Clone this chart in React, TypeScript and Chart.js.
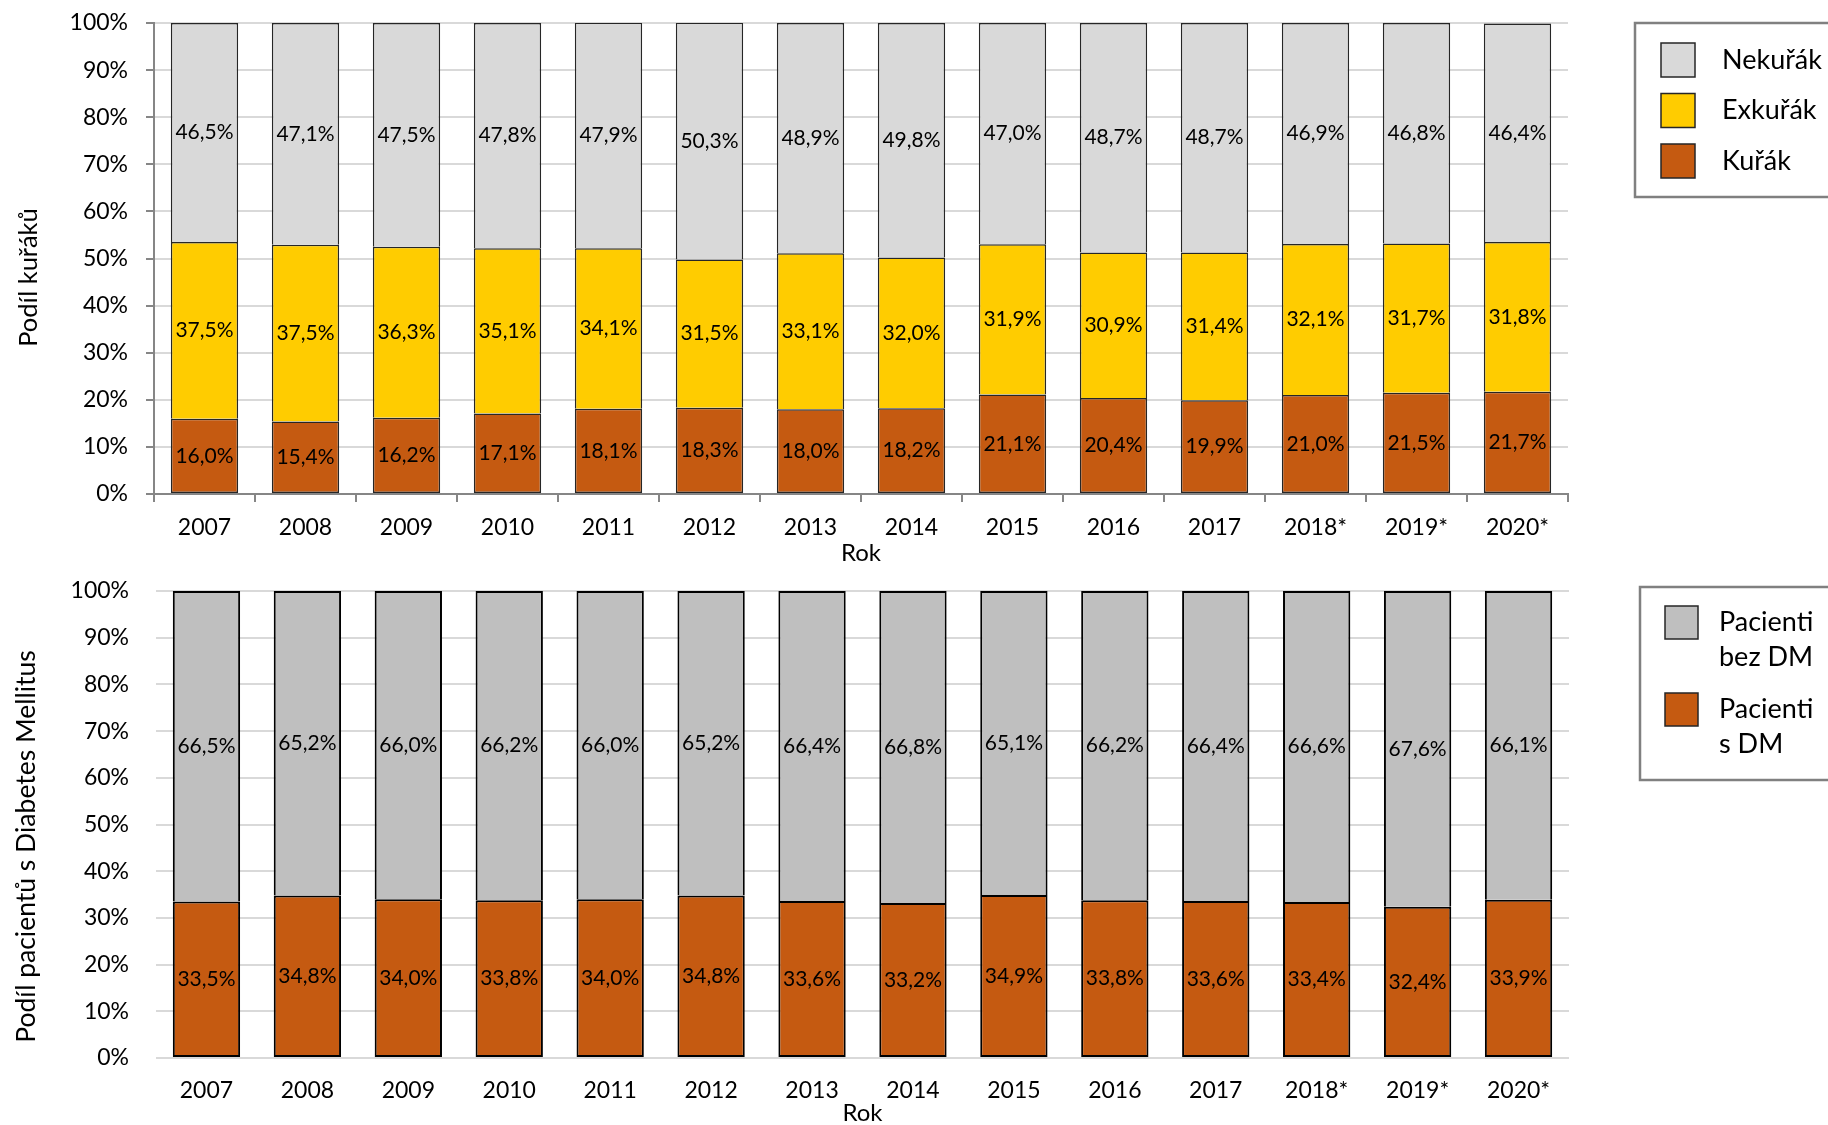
import React, { useEffect, useRef } from "react";
import { Chart, registerables } from "chart.js";

Chart.register(...registerables);

const years = ["2007", "2008", "2009", "2010", "2011", "2012", "2013", "2014", "2015", "2016", "2017", "2018*", "2019*", "2020*"];

const kurak = [16.0, 15.4, 16.2, 17.1, 18.1, 18.3, 18.0, 18.2, 21.1, 20.4, 19.9, 21.0, 21.5, 21.7];
const exkurak = [37.5, 37.5, 36.3, 35.1, 34.1, 31.5, 33.1, 32.0, 31.9, 30.9, 31.4, 32.1, 31.7, 31.8];
const nekurak = [46.5, 47.1, 47.5, 47.8, 47.9, 50.3, 48.9, 49.8, 47.0, 48.7, 48.7, 46.9, 46.8, 46.4];

const sDM = [33.5, 34.8, 34.0, 33.8, 34.0, 34.8, 33.6, 33.2, 34.9, 33.8, 33.6, 33.4, 32.4, 33.9];
const bezDM = [66.5, 65.2, 66.0, 66.2, 66.0, 65.2, 66.4, 66.8, 65.1, 66.2, 66.4, 66.6, 67.6, 66.1];

const topLabels = ["Kuřák", "Exkuřák", "Nekuřák"];
const bottomLabels = ["Pacienti\ns DM", "Pacienti\nbez DM"];
const xTitle = "Rok";
const topYTitle = "Podíl kuřáků";
const bottomYTitle = "Podíl pacientů s Diabetes Mellitus";

const FONT = "Lato, 'Open Sans', sans-serif";

const segmentLabels = {
  id: "segmentLabels",
  afterDatasetsDraw(chart: any, _a: any, o: any) {
    const ctx = chart.ctx;
    ctx.save();
    ctx.font = `${o.size}px ${FONT}`;
    ctx.fillStyle = "#000";
    ctx.textAlign = "center";
    ctx.textBaseline = "middle";
    chart.data.datasets.forEach((ds: any, i: number) => {
      const meta = chart.getDatasetMeta(i);
      meta.data.forEach((el: any, j: number) => {
        const v = ds.data[j] as number;
        const txt = v.toFixed(1).replace(".", ",") + "%";
        ctx.fillText(txt, el.x, (el.y + el.base) / 2);
      });
    });
    ctx.restore();
  },
};

const axisTitles = {
  id: "axisTitles",
  afterDraw(chart: any, _a: any, o: any) {
    const { ctx, chartArea: ca } = chart;
    ctx.save();
    ctx.fillStyle = "#000";
    ctx.textAlign = "center";
    ctx.textBaseline = "middle";
    ctx.font = `${o.xSize}px ${FONT}`;
    ctx.fillText(o.xText, (ca.left + ca.right) / 2, ca.bottom + o.xOffset);
    ctx.font = `${o.ySize}px ${FONT}`;
    ctx.translate(o.yX, (ca.top + ca.bottom) / 2 + o.yShift);
    ctx.rotate(-Math.PI / 2);
    ctx.fillText(o.yText, 0, 0);
    ctx.restore();
  },
};

const boxLegend = {
  id: "boxLegend",
  afterDraw(chart: any, _a: any, o: any) {
    const ctx = chart.ctx;
    ctx.save();
    ctx.strokeStyle = o.borderColor;
    ctx.lineWidth = 2.5;
    ctx.strokeRect(o.box.x, o.box.y, o.box.w, o.box.h);
    ctx.font = `${o.size}px ${FONT}`;
    ctx.textAlign = "left";
    ctx.textBaseline = "middle";
    const items = chart.data.datasets.slice().reverse();
    items.forEach((ds: any, k: number) => {
      const top = o.firstTop + k * o.spacing;
      ctx.fillStyle = ds.backgroundColor;
      ctx.fillRect(o.swX, top, o.sw, o.sw);
      ctx.strokeStyle = "#262626";
      ctx.lineWidth = 1.5;
      ctx.strokeRect(o.swX, top, o.sw, o.sw);
      ctx.fillStyle = "#000";
      const lines = String(ds.label).split("\n");
      lines.forEach((ln: string, m: number) => {
        ctx.fillText(ln, o.textX, top + o.sw / 2 + m * o.lineHeight);
      });
    });
    ctx.restore();
  },
};

const noPadV = (s: any) => { s.paddingTop = 0; s.paddingBottom = 0; };
const noPadH = (s: any) => { s.paddingLeft = 0; s.paddingRight = 0; };

function TopChart() {
  const ref = useRef<HTMLCanvasElement>(null);
  useEffect(() => {
    const base = { barPercentage: 0.667, categoryPercentage: 1, borderWidth: 1.5, borderColor: "#262626" };
    const chart = new Chart(ref.current!, {
      type: "bar",
      data: {
        labels: years,
        datasets: [
          { label: topLabels[0], data: kurak, backgroundColor: "#C55A11", ...base, borderSkipped: false },
          { label: topLabels[1], data: exkurak, backgroundColor: "#FFCC00", ...base, borderSkipped: "start" },
          { label: topLabels[2], data: nekurak, backgroundColor: "#D9D9D9", ...base, borderSkipped: "start" },
        ] as any,
      },
      options: {
        responsive: false,
        animation: false,
        layout: { padding: { top: 23, right: 260, left: 0, bottom: 0 } },
        plugins: {
          legend: { display: false },
          tooltip: { enabled: false },
          segmentLabels: { size: 21 },
          axisTitles: { xSize: 24, ySize: 25.5, xText: xTitle, xOffset: 59, yText: topYTitle, yX: 29, yShift: 19 },
          boxLegend: {
            borderColor: "#808080",
            box: { x: 1635, y: 23, w: 200, h: 174 },
            size: 27,
            swX: 1661,
            sw: 34,
            firstTop: 43,
            spacing: 50.5,
            textX: 1722,
            lineHeight: 33,
          },
        } as any,
        scales: {
          x: {
            stacked: true,
            grid: { display: true, drawOnChartArea: false, drawTicks: true, tickLength: 8, tickColor: "#868686", offset: true, lineWidth: 2 },
            border: { display: true, color: "#868686", width: 2 },
            ticks: { color: "#000", font: { family: FONT, size: 23 }, padding: 12, maxRotation: 0, autoSkip: false },
            afterFit: (s: any) => { s.height = 71; noPadH(s); },
          },
          y: {
            stacked: true,
            min: 0,
            max: 100,
            ticks: { stepSize: 10, callback: (v: any) => v + "%", padding: 18, color: "#000", font: { family: FONT, size: 23 } },
            grid: { color: "#D9D9D9", lineWidth: 2, tickColor: "#868686", tickLength: 8 },
            border: { color: "#868686", width: 2 },
            afterFit: (s: any) => { s.width = 154; noPadV(s); },
          },
        } as any,
      },
      plugins: [segmentLabels, axisTitles, boxLegend],
    });
    return () => chart.destroy();
  }, []);
  return <canvas ref={ref} width={1828} height={565} style={{ position: "absolute", left: 0, top: 0 }} />;
}

function BottomChart() {
  const ref = useRef<HTMLCanvasElement>(null);
  useEffect(() => {
    const base = { barPercentage: 0.667, categoryPercentage: 1, borderWidth: 2, borderColor: "#000000" };
    const chart = new Chart(ref.current!, {
      type: "bar",
      data: {
        labels: years,
        datasets: [
          { label: bottomLabels[0], data: sDM, backgroundColor: "#C55A11", ...base, borderSkipped: false },
          { label: bottomLabels[1], data: bezDM, backgroundColor: "#BFBFBF", ...base, borderSkipped: "start" },
        ] as any,
      },
      options: {
        responsive: false,
        animation: false,
        layout: { padding: { top: 26, right: 259, left: 0, bottom: 0 } },
        plugins: {
          legend: { display: false },
          tooltip: { enabled: false },
          segmentLabels: { size: 21 },
          axisTitles: { xSize: 24, ySize: 26.5, xText: xTitle, xOffset: 55, yText: bottomYTitle, yX: 26, yShift: 22 },
          boxLegend: {
            borderColor: "#808080",
            box: { x: 1640, y: 22, w: 200, h: 193 },
            size: 27,
            swX: 1665,
            sw: 33,
            firstTop: 41,
            spacing: 87,
            textX: 1719,
            lineHeight: 35,
          },
        } as any,
        scales: {
          x: {
            stacked: true,
            grid: { display: false, drawTicks: false },
            border: { display: false },
            ticks: { color: "#000", font: { family: FONT, size: 23 }, padding: 19, maxRotation: 0, autoSkip: false },
            afterFit: (s: any) => { s.height = 67; noPadH(s); },
          },
          y: {
            stacked: true,
            min: 0,
            max: 100,
            ticks: { stepSize: 10, callback: (v: any) => v + "%", padding: 27, color: "#000", font: { family: FONT, size: 23 } },
            grid: { color: "#D9D9D9", lineWidth: 2, drawTicks: false },
            border: { display: false },
            afterFit: (s: any) => { s.width = 156; noPadV(s); },
          },
        } as any,
      },
      plugins: [segmentLabels, axisTitles, boxLegend],
    });
    return () => chart.destroy();
  }, []);
  return <canvas ref={ref} width={1828} height={560} style={{ position: "absolute", left: 0, top: 565 }} />;
}

export default function App() {
  return (
    <div style={{ position: "absolute", left: 0, top: 0, width: 1828, height: 1125, background: "#fff", overflow: "hidden" }}>
      <TopChart />
      <BottomChart />
    </div>
  );
}
